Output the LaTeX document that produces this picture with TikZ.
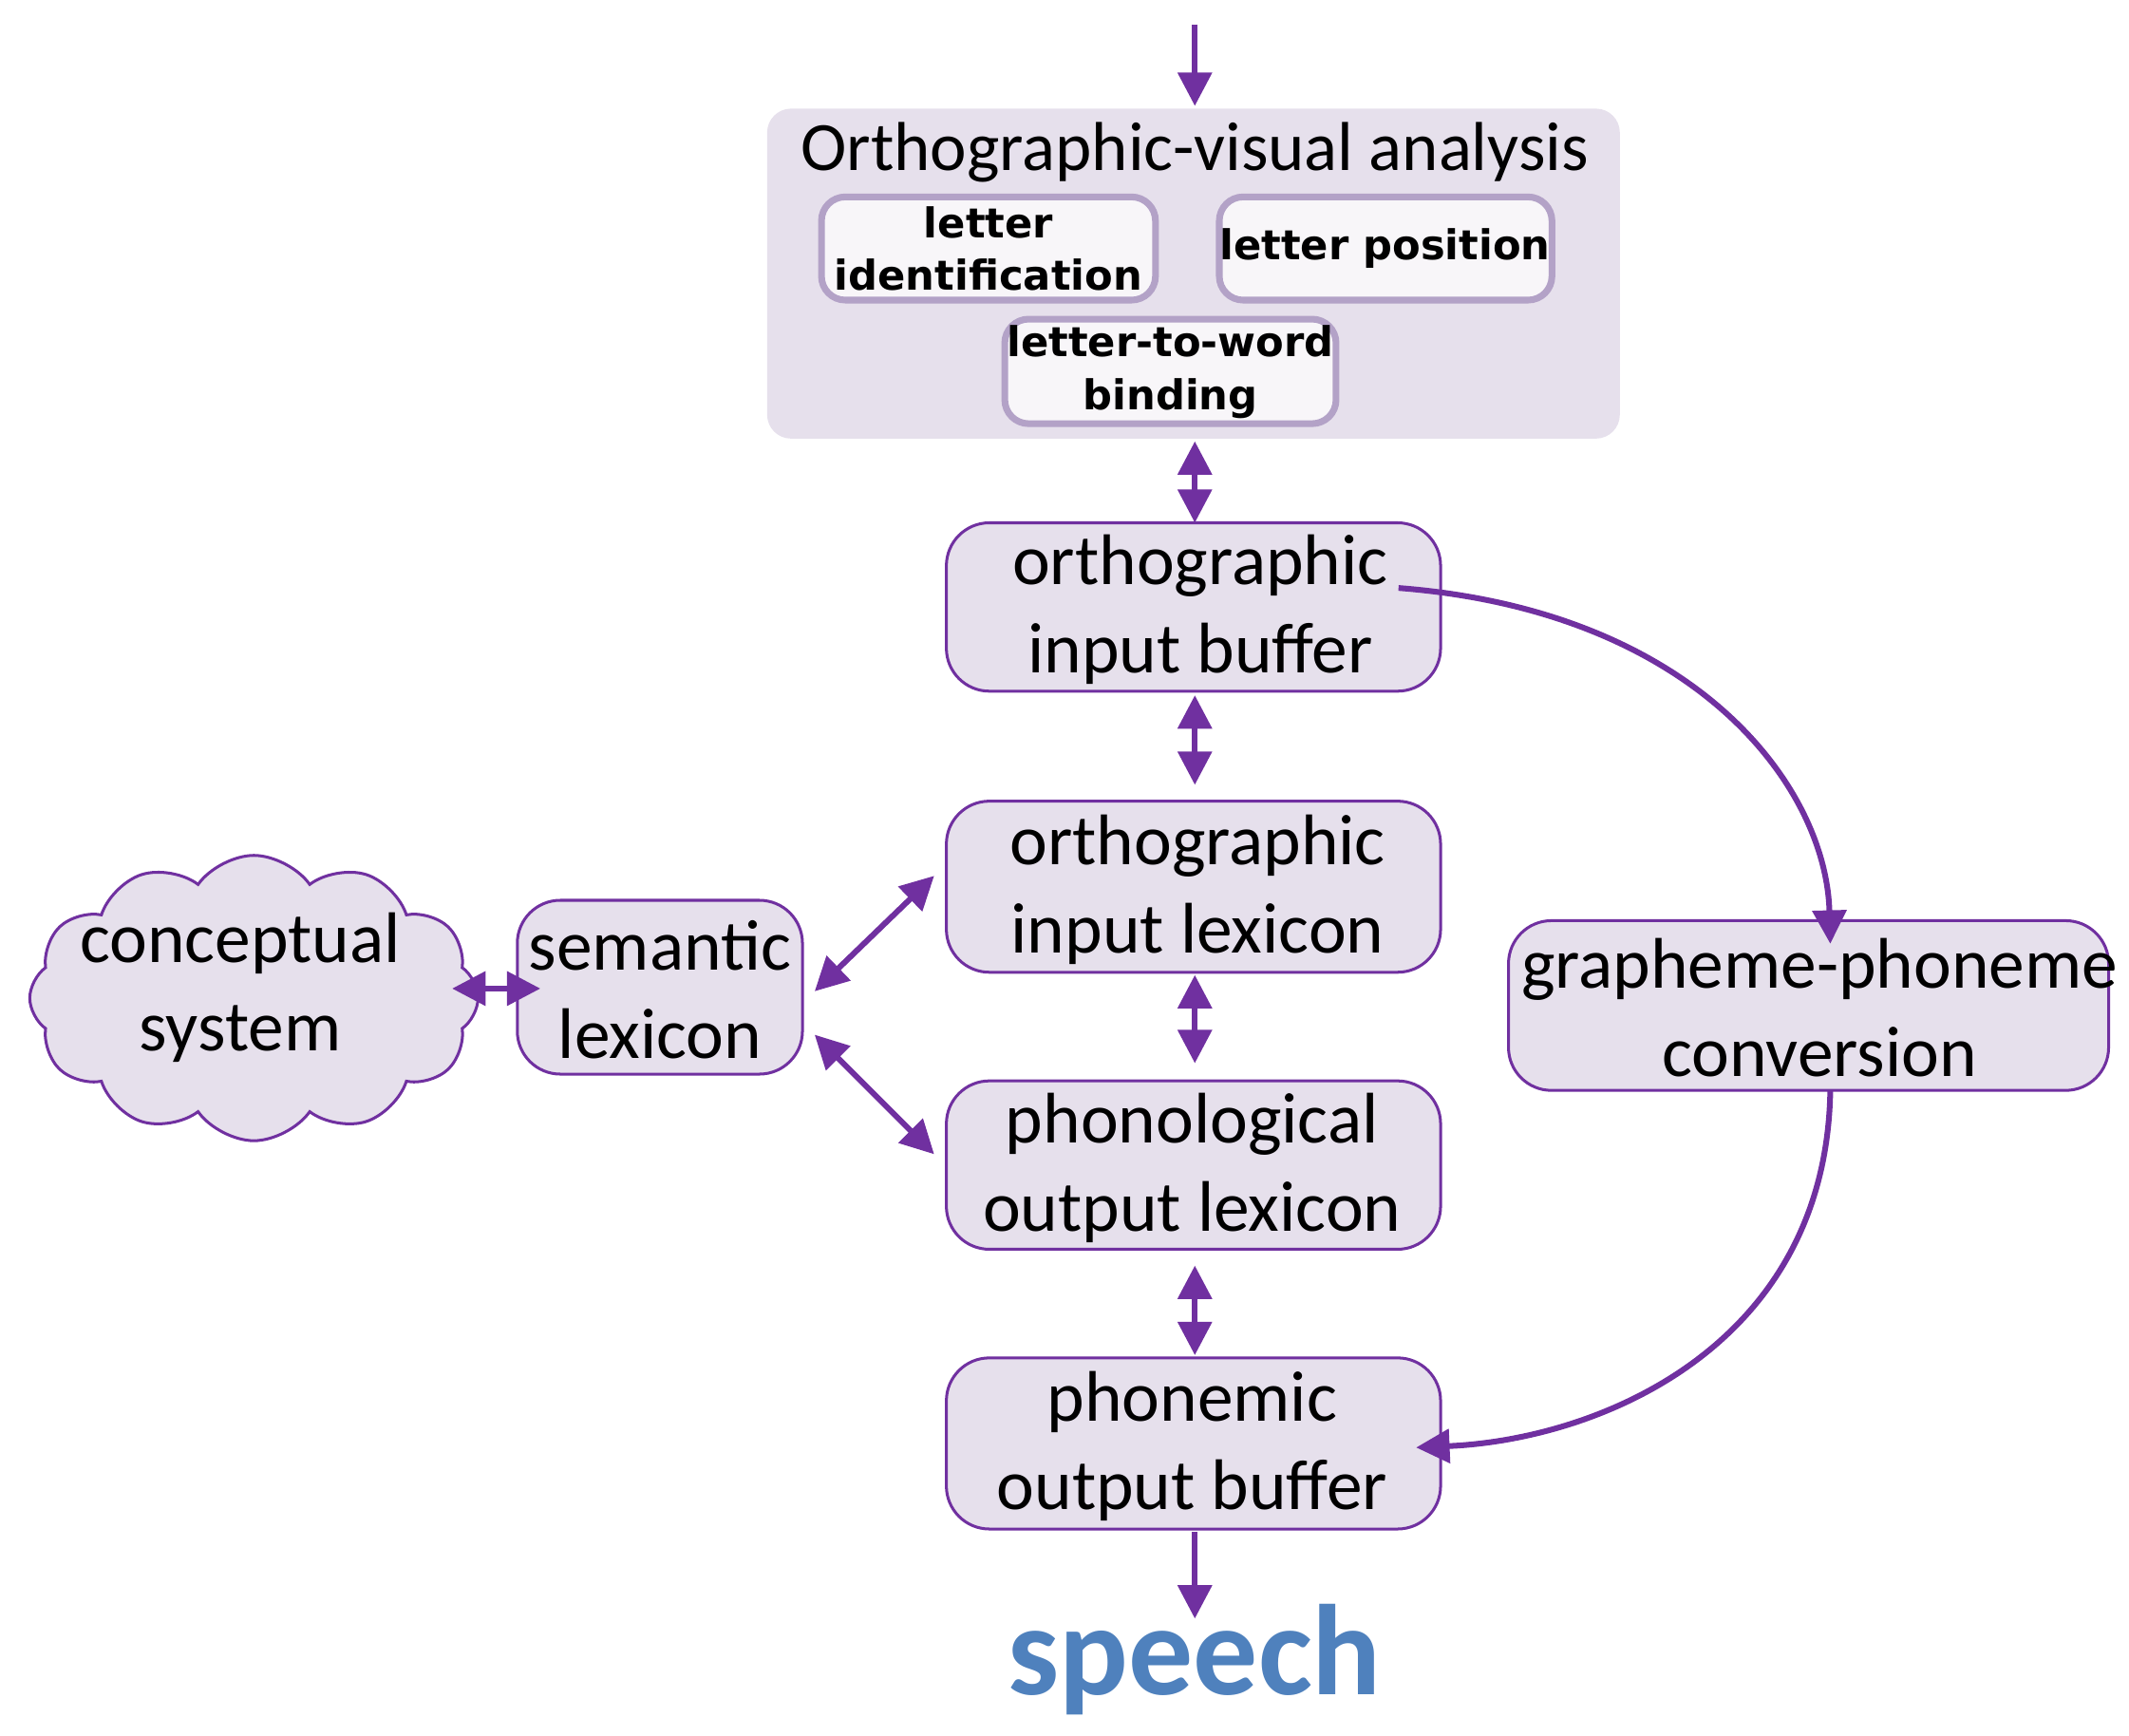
\documentclass[tikz,border=0pt]{standalone}
\usepackage{fontspec}
\setmainfont{Carlito}
\newfontfamily\boldsans{DejaVu Sans}
\usetikzlibrary{shapes.symbols,arrows.meta}
\definecolor{pur}{HTML}{7030A0}
\definecolor{lav}{HTML}{E6E0EC}
\definecolor{lbd}{HTML}{B3A2C7}
\definecolor{spc}{HTML}{4F81BD}
\begin{document}
\begin{tikzpicture}[x=0.01cm,y=-0.01cm,
 boxd/.style={draw=pur,fill=lav,rounded corners=9pt,line width=0.6pt},
 ibox/.style={draw=lbd,line width=1.4pt,fill=white!70!lav,rounded corners=5pt},
 txt/.style={font=\fontsize{15}{18.5}\selectfont,align=center},
 itxt/.style={font=\boldsans\bfseries\fontsize{8.6}{11}\selectfont,align=center},
 arr/.style={draw=pur,line width=1.2pt,-{Triangle[length=7pt,width=7pt]}},
 darr/.style={draw=pur,line width=1.2pt,{Triangle[length=7pt,width=7pt]}-{Triangle[length=7pt,width=7pt]}}]
\useasboundingbox (0,0) rectangle (1568,1278);
\fill[lav,rounded corners=5pt] (565,80) rectangle (1193,323);
\node[font=\fontsize{14.5}{17}\selectfont] (title) at (880,112) {Orthographic-visual analysis};
\draw[ibox] (605,145) rectangle (851,221);
\node[itxt] (lid) at (728,183) {letter\\identification};
\draw[ibox] (898,145) rectangle (1143,221);
\node[itxt] (lpos) at (1020,183) {letter position};
\draw[ibox] (740,235) rectangle (984,312);
\node[itxt] (lwb) at (862,274) {letter-to-word\\binding};
\draw[boxd] (697,385) rectangle (1061,509);
\node[txt] (oib) at (884,449) {orthographic\\input buffer};
\draw[boxd] (697,590) rectangle (1061,716);
\node[txt] (oil) at (882,655) {orthographic\\input lexicon};
\draw[boxd] (697,796) rectangle (1061,920);
\node[txt] (pol) at (878,860) {phonological\\output lexicon};
\draw[boxd] (697,1000) rectangle (1061,1126);
\node[txt] (pob) at (878,1065) {phonemic\\output buffer};
\draw[boxd] (381,663) rectangle (591,791);
\node[txt] (sem) at (486,729) {semantic\\lexicon};
\draw[boxd] (1111,678) rectangle (1553,803);
\node[txt] (gpc) at (1340,742) {grapheme-phoneme\\conversion};
\node[cloud,cloud puffs=12,cloud puff arc=110,aspect=1.6,draw=pur,fill=lav,line width=0.6pt,minimum width=3.3cm,minimum height=2.1cm,inner sep=0pt] (cs) at (187,735) {};
\node[txt] (cst) at (177,727) {conceptual\\system};
\node[font=\bfseries\fontsize{27}{32}\selectfont,text=spc] (sp) at (880,1222) {speech};
\coordinate (top) at (880,18);
\coordinate (a1) at (880,78);
\draw[arr] (top) -- (a1);
\draw[darr] (880,325) -- (880,385);
\draw[darr] (880,512) -- (880,578);
\draw[darr] (880,718) -- (880,783);
\draw[darr] (880,932) -- (880,998);
\draw[arr] (880,1128) -- (880,1192);
\draw[darr] (333,728) -- (398,728);
\draw[darr] (600,730) -- (688,645);
\draw[darr] (600,762) -- (688,850);
\draw[arr] (1030,433) .. controls (1250,450) and (1345,580) .. (1348,695);
\draw[arr] (1348,803) .. controls (1345,990) and (1180,1060) .. (1043,1066);
\end{tikzpicture}
\end{document}
